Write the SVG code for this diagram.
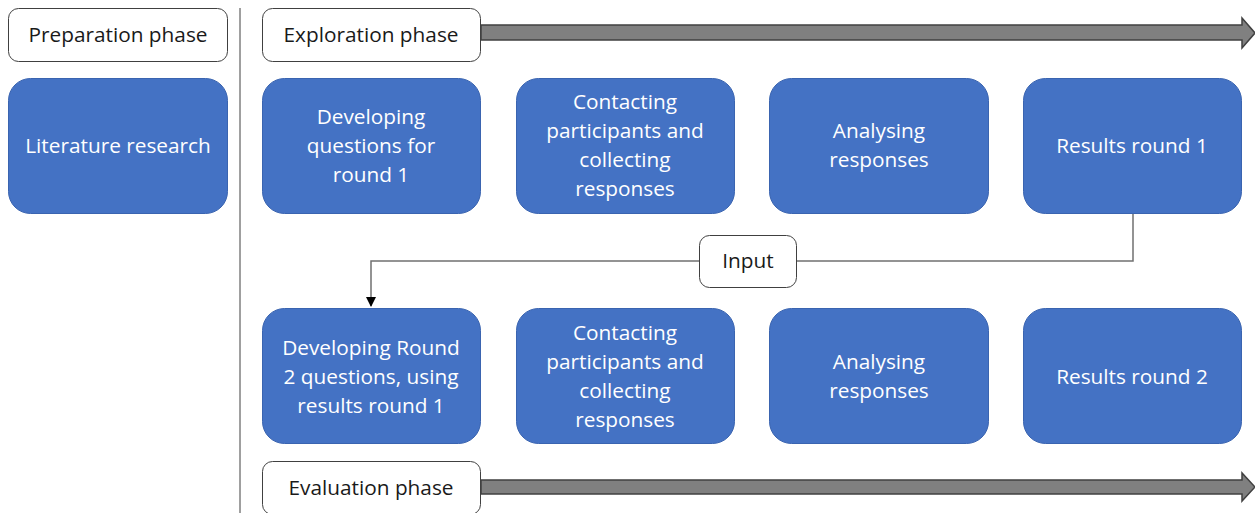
<svg xmlns="http://www.w3.org/2000/svg" width="1255" height="513" viewBox="0 0 1255 513">
<defs>
<style>
.phase{fill:#fff;stroke:#404040;stroke-width:1}
.blue{fill:#4472C4;stroke:#3A64B0;stroke-width:1}
.t{font-family:"Open Sans","Noto Sans",sans-serif;font-size:20.8px;text-anchor:middle;dominant-baseline:central}
.w{fill:#fff}
.k{fill:#1a1a1a}
.arr{fill:#808080;stroke:#404040;stroke-width:1.5}
.con{fill:none;stroke:#707070;stroke-width:1.5}
</style>
<marker id="ah" viewBox="0 0 10 10" refX="9" refY="5" markerWidth="10" markerHeight="10" markerUnits="userSpaceOnUse" orient="auto"><path d="M0,0L10,5L0,10z" fill="#000"/></marker>
</defs>
<line x1="240" y1="8" x2="240" y2="513" stroke="#404040" stroke-width="1"/>
<g id="arrows">
<path class="arr" d="M481,25H1242V18L1255,33L1242,48V40H481z"/>
<path class="arr" d="M481,480H1242V473L1255,487L1242,501V494H481z"/>
</g>
<g id="connectors">
<path class="con" d="M1133,214V261H797"/>
<path class="con" d="M699,261H371V306" marker-end="url(#ah)"/>
</g>
<g id="prep"><rect class="phase" x="8.5" y="8.5" width="219" height="53" rx="10"/><text class="t k" x="118" y="34">Preparation phase</text></g>
<g id="explore"><rect class="phase" x="262.5" y="8.5" width="218" height="53" rx="10"/><text class="t k" x="371" y="34">Exploration phase</text></g>
<g id="eval"><rect class="phase" x="262.5" y="461.5" width="218" height="53" rx="10"/><text class="t k" x="371" y="487">Evaluation phase</text></g>
<g id="input"><rect class="phase" x="699.5" y="235.5" width="97" height="52" rx="10"/><text class="t k" x="748" y="260">Input</text></g>
<g id="lit"><rect class="blue" x="8.5" y="78.5" width="219" height="135" rx="22"/><text class="t w" x="118" y="145">Literature research</text></g>
<g id="dev1"><rect class="blue" x="262.5" y="78.5" width="218" height="135" rx="22"/><text class="t w" x="371"><tspan x="371" y="116">Developing</tspan><tspan x="371" y="145">questions for</tspan><tspan x="371" y="174">round 1</tspan></text></g>
<g id="contact1"><rect class="blue" x="516.5" y="78.5" width="218" height="135" rx="22"/><text class="t w"><tspan x="625" y="101">Contacting</tspan><tspan x="625" y="130">participants and</tspan><tspan x="625" y="159">collecting</tspan><tspan x="625" y="188">responses</tspan></text></g>
<g id="analyse1"><rect class="blue" x="769.5" y="78.5" width="219" height="135" rx="22"/><text class="t w"><tspan x="879" y="130">Analysing</tspan><tspan x="879" y="159">responses</tspan></text></g>
<g id="results1"><rect class="blue" x="1023.5" y="78.5" width="218" height="135" rx="22"/><text class="t w" x="1132" y="145">Results round 1</text></g>
<g id="dev2"><rect class="blue" x="262.5" y="308.5" width="218" height="135" rx="22"/><text class="t w"><tspan x="371" y="347">Developing Round</tspan><tspan x="371" y="376">2 questions, using</tspan><tspan x="371" y="405">results round 1</tspan></text></g>
<g id="contact2"><rect class="blue" x="516.5" y="308.5" width="218" height="135" rx="22"/><text class="t w"><tspan x="625" y="332">Contacting</tspan><tspan x="625" y="361">participants and</tspan><tspan x="625" y="390">collecting</tspan><tspan x="625" y="419">responses</tspan></text></g>
<g id="analyse2"><rect class="blue" x="769.5" y="308.5" width="219" height="135" rx="22"/><text class="t w"><tspan x="879" y="361">Analysing</tspan><tspan x="879" y="390">responses</tspan></text></g>
<g id="results2"><rect class="blue" x="1023.5" y="308.5" width="218" height="135" rx="22"/><text class="t w" x="1132" y="376">Results round 2</text></g>
</svg>
